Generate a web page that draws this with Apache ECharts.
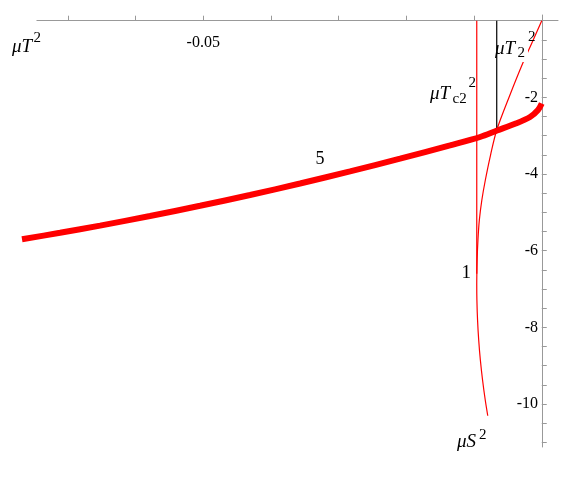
<!DOCTYPE html>
<html>
<head>
<meta charset="utf-8">
<script src="https://cdn.jsdelivr.net/npm/echarts@6/dist/echarts.min.js"></script>
<style>
html,body{margin:0;padding:0;background:#fff}
#main{width:567px;height:491px}
</style>
</head>
<body>
<div id="main"></div>
<script>
// curve "5" (thick)
var curve5X = [-0.07677, -0.07115, -0.06524, -0.05786, -0.05047, -0.04309, -0.03570, -0.02832, -0.02093, -0.01355, -0.00911, -0.00660, -0.00394, -0.00173, -0.00055, 0.0];
var curve5Y = [-5.703, -5.534, -5.346, -5.095, -4.829, -4.547, -4.247, -3.932, -3.600, -3.251, -3.034, -2.865, -2.690, -2.512, -2.330, -2.160];

// curve "1" (thin)
var curve1X = [0.0, -0.001477, -0.002806, -0.004756, -0.006647, -0.007563, -0.008331, -0.008848, -0.009217, -0.009424, -0.009542, -0.009601, -0.009579, -0.009483, -0.009313, -0.009069, -0.008744, -0.008346, -0.007976];
var curve1Y = [0.0, -0.590, -1.111, -1.964, -2.852, -3.504, -4.156, -4.678, -5.200, -5.721, -6.243, -6.895, -7.287, -7.809, -8.330, -8.852, -9.374, -9.896, -10.306];

// vertical marks: muTc2^2 (red) and muT2^2 (black)
var tc2X = -0.0096, tc2Y = [0, -6.6];
var t2X = -0.00665, t2Y = [0, -2.85];

// ticks
var xTicks = [-0.07, -0.06, -0.05, -0.04, -0.03, -0.02, -0.01];
var xLabels = [-0.05];
var yTicks = [-11, -10.5, -10, -9.5, -9, -8.5, -8, -7.5, -7, -6.5, -6, -5.5, -5, -4.5, -4, -3.5, -3, -2.5, -2, -1.5, -1, -0.5];
var yLabels = [-2, -4, -6, -8, -10];

function zip(xs, ys) {
    return xs.map(function (x, i) { return [x, ys[i]]; });
}

var axisGray = '#999';
var serif = '"Liberation Serif", "DejaVu Serif", serif';

var myChart = echarts.init(document.getElementById('main'));

// helper for the math-style labels (base + sub/superscripts)
function txt(s, x, y, size, italic) {
    return {
        type: 'text',
        z: 6,
        style: {
            text: s,
            x: x,
            y: y,
            font: (italic ? 'italic ' : '') + size + 'px ' + serif,
            fill: '#000',
            textAlign: 'left',
            textVerticalAlign: 'middle'
        }
    };
}

var option = {
    animation: false,
    backgroundColor: '#fff',
    grid: {
        left: 22,
        right: 9,
        top: 15,
        bottom: 44
    },
    xAxis: {
        type: 'value',
        position: 'top',
        min: -0.07677,
        max: 0.0024,
        splitLine: { show: false },
        axisLine: {
            onZero: true,
            lineStyle: { color: axisGray, width: 1 }
        },
        axisTick: {
            customValues: xTicks,
            length: 5,
            lineStyle: { color: axisGray }
        },
        axisLabel: {
            customValues: xLabels,
            inside: true,
            margin: 20,
            color: '#000',
            fontFamily: serif,
            fontSize: 16,
            formatter: function (v) { return v.toFixed(2); }
        }
    },
    yAxis: {
        type: 'value',
        position: 'right',
        min: -11.122,
        max: 0.149,
        splitLine: { show: false },
        axisLine: {
            onZero: true,
            lineStyle: { color: axisGray, width: 1 }
        },
        axisTick: {
            customValues: yTicks,
            length: 5,
            lineStyle: { color: axisGray }
        },
        axisLabel: {
            customValues: yLabels,
            inside: true,
            margin: 20,
            color: '#000',
            fontFamily: serif,
            fontSize: 16,
            formatter: function (v) { return String(v); }
        }
    },
    series: [
        {
            name: '1',
            type: 'line',
            data: zip(curve1X, curve1Y),
            showSymbol: false,
            smooth: 0.3,
            clip: false,
            z: 2,
            lineStyle: { color: '#ff0000', width: 1.2 }
        },
        {
            name: 'Tc2',
            type: 'line',
            data: zip([tc2X, tc2X], tc2Y),
            showSymbol: false,
            clip: false,
            z: 2,
            lineStyle: { color: '#ff0000', width: 1.2 }
        },
        {
            name: 'T2',
            type: 'line',
            data: zip([t2X, t2X], t2Y),
            showSymbol: false,
            clip: false,
            z: 4,
            lineStyle: { color: '#000', width: 1.2 }
        },
        {
            name: '5',
            type: 'line',
            data: zip(curve5X, curve5Y),
            showSymbol: false,
            smooth: 0.3,
            clip: false,
            z: 5,
            lineStyle: { color: '#ff0000', width: 6 }
        }
    ],
    graphic: [
        // axis line starts a bit right of the curve's left end
        { type: 'rect', z: 1, shape: { x: 18, y: 12, width: 18.5, height: 12 }, style: { fill: '#fff' } },
        // white box behind the muT2^2 label
        { type: 'rect', z: 3, shape: { x: 494, y: 44, width: 34, height: 18 }, style: { fill: '#fff' } },
        txt('\u03bcT', 12, 46.5, 19, true),
        txt('2', 33.5, 38.5, 15, false),

        txt('\u03bcT', 495, 48.5, 19, true),
        txt('2', 517.5, 53.5, 15, false),
        txt('2', 528, 37.5, 15, false),

        txt('\u03bcT', 430, 93.5, 19, true),
        txt('c2', 452.5, 99, 15, false),
        txt('2', 468.5, 83, 15, false),

        txt('\u03bcS', 457, 442, 19, true),
        txt('2', 479, 435, 15, false),

        txt('5', 315.5, 159.5, 18, false),
        txt('1', 461.5, 273, 19, false)
    ]
};

myChart.setOption(option);
</script>
</body>
</html>
